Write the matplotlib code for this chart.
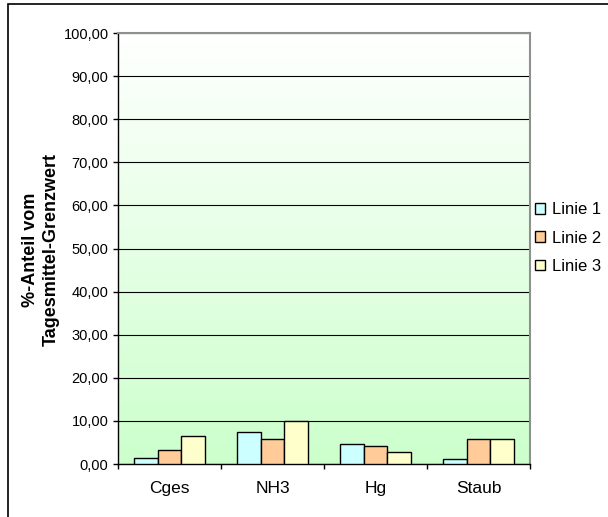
import numpy as np
import matplotlib
matplotlib.use("Agg")
import matplotlib.pyplot as plt
from matplotlib.patches import Rectangle
from matplotlib.ticker import FuncFormatter, MultipleLocator

plt.rcParams['font.family'] = ['Liberation Sans', 'DejaVu Sans']

categories = ["Cges", "NH3", "Hg", "Staub"]
linie1 = [1.3, 7.45, 4.55, 1.1]
linie2 = [3.3, 5.85, 4.2, 5.85]
linie3 = [6.5, 10.0, 2.7, 5.85]
series_names = ["Linie 1", "Linie 2", "Linie 3"]
colors = ["#CCFFFF", "#FFCC99", "#FFFFCC"]

W, H = 608, 517
fig = plt.figure(figsize=(W / 100, H / 100), dpi=100)
ax = fig.add_axes([118 / W, 1 - 464 / H, (530 - 118) / W, (464 - 33) / H])

# gradient background: white at top, light green at bottom
grad = np.linspace(0, 1, 256).reshape(-1, 1)
top = np.array([1.0, 1.0, 1.0])
bot = np.array([0xCC, 0xFF, 0xCC]) / 255
img = top[None, None, :] * (1 - grad[:, :, None]) + bot[None, None, :] * grad[:, :, None]
ax.imshow(img, extent=[-0.5, len(categories) - 0.5, 0, 100], origin='upper',
          aspect='auto', zorder=0)

x = np.arange(len(categories))
bw = 0.228
for i, (vals, c, n) in enumerate(zip([linie1, linie2, linie3], colors, series_names)):
    ax.bar(x + (i - 1) * bw, vals, width=bw, color=c, edgecolor='black', linewidth=1.0, label=n, zorder=3)

ax.set_xlim(-0.5, len(categories) - 0.5)
ax.set_ylim(0, 100)
ax.yaxis.set_major_locator(MultipleLocator(10))
ax.yaxis.set_major_formatter(FuncFormatter(lambda v, p: f"{v:.2f}".replace('.', ',')))
ax.grid(axis='y', color='black', linewidth=0.8, zorder=1)
ax.set_axisbelow(True)

ax.set_xticks(x)
ax.set_xticklabels(categories, fontsize=12.5)
ax.set_xticks(np.arange(len(categories) + 1) - 0.5, minor=True)
ax.tick_params(axis='x', which='major', length=0, pad=12)
ax.tick_params(axis='x', which='minor', length=3.8, width=1, direction='out')
ax.tick_params(axis='y', length=3.8, width=1, direction='out', labelsize=10.5, pad=3)

for s in ['left', 'bottom']:
    ax.spines[s].set_color('black')
    ax.spines[s].set_linewidth(1)
for s in ['top', 'right']:
    ax.spines[s].set_color('#909090')
    ax.spines[s].set_linewidth(1.5)

fig.text(41 / W, 1 - 250 / H, "%-Anteil vom\nTagesmittel-Grenzwert", rotation=90,
         ha='center', va='center', fontsize=13, fontweight='bold', linespacing=1.3)

leg = ax.legend(loc='center left', bbox_to_anchor=(535 / W, 1 - 238 / H), bbox_transform=fig.transFigure,
                frameon=False, fontsize=12, handlelength=0.6, handleheight=0.6,
                handletextpad=0.45, labelspacing=0.8, borderaxespad=0, borderpad=0)

# outer frame
fig.patches.append(Rectangle((8 / W, -0.1), 1.2, 1 - 4 / H + 0.1, transform=fig.transFigure,
                             fill=False, edgecolor='black', linewidth=1.2))

fig.savefig("out.png", dpi=100)
